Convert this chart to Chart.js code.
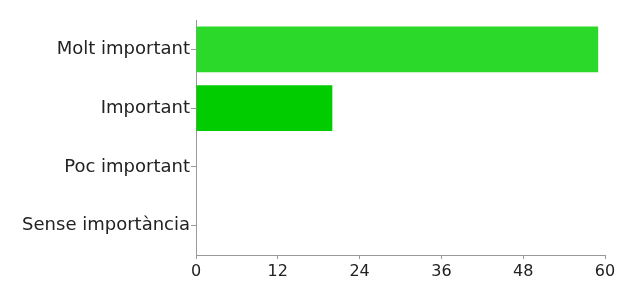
<!DOCTYPE html>
<html>
<head>
<meta charset="utf-8">
<script src="https://cdn.jsdelivr.net/npm/chart.js@4/dist/chart.umd.min.js"></script>
<style>
  html, body { margin: 0; padding: 0; background: #fff; }
  #wrap { width: 630px; height: 291px; }
</style>
</head>
<body>
<div id="wrap"><canvas id="c" width="630" height="291"></canvas></div>
<script>
const categories = ['Molt important', 'Important', 'Poc important', 'Sense importància'];
const responses = [59, 20, 0, 0];
const barColors = ['#2bd92b', '#00cc00', '#00cc00', '#00cc00'];
const xTicks = [0, 12, 24, 36, 48, 60];

const ctx = document.getElementById('c').getContext('2d');
new Chart(ctx, {
    type: 'bar',
    data: {
        labels: categories,
        datasets: [{
            data: responses,
            backgroundColor: barColors,
            barPercentage: 0.78,
            categoryPercentage: 1
        }]
    },
    options: {
        indexAxis: 'y',
        responsive: false,
        animation: false,
        layout: { padding: { top: 20, right: 25, left: 0, bottom: 0 } },
        plugins: {
            legend: { display: false },
            tooltip: { enabled: false }
        },
        scales: {
            x: {
                min: 0,
                max: 60,
                afterBuildTicks: axis => {
                    axis.ticks = xTicks.map(v => ({ value: v }));
                },
                grid: { drawOnChartArea: false, tickLength: 4, color: '#999' },
                border: { color: '#999' },
                ticks: {
                    color: '#222',
                    padding: 3,
                    maxRotation: 0,
                    font: { family: 'DejaVu Sans', size: 16 }
                },
                afterFit: axis => { axis.height = 36; }
            },
            y: {
                grid: { drawOnChartArea: false, offset: false, tickLength: 5, color: '#999' },
                border: { color: '#999' },
                ticks: {
                    color: '#222',
                    padding: 1,
                    font: { family: 'DejaVu Sans', size: 18 }
                },
                afterFit: axis => { axis.width = 196; }
            }
        }
    }
});
</script>
</body>
</html>
